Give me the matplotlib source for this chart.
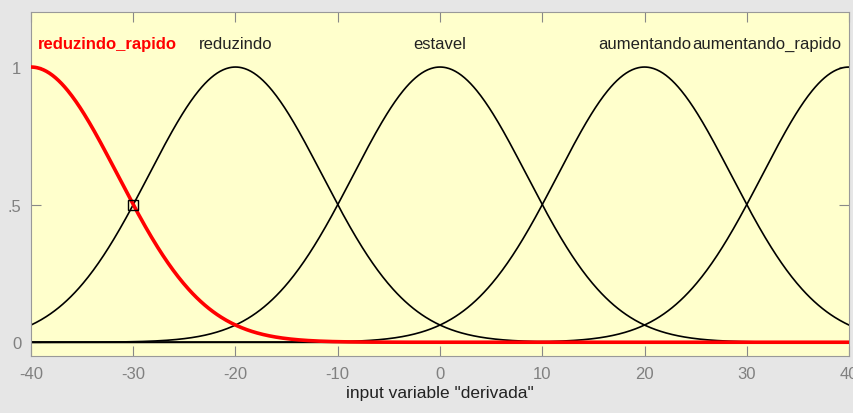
import numpy as np
import matplotlib
matplotlib.use("Agg")
import matplotlib.pyplot as plt

plt.rcParams['font.family'] = ['Liberation Sans', 'DejaVu Sans']
plt.rcParams['axes.unicode_minus'] = False

# gaussian membership functions of the input "derivada"
mf_names = ['reduzindo_rapido', 'reduzindo', 'estavel', 'aumentando', 'aumentando_rapido']
mf_centers = [-40, -20, 0, 20, 40]
mf_sigma = 8.493
selected = 0
x_ticks = [-40, -30, -20, -10, 0, 10, 20, 30, 40]
y_ticks = [0, 0.5, 1]
y_ticklabels = ['0', '.5', '1']
marker_pt = (-30, 0.5)

fig = plt.figure(figsize=(8.54, 4.14), dpi=100, facecolor='#e6e6e6')
ax = fig.add_axes([31/854, 1 - 357/414, 818/854, 344/414])
ax.set_facecolor('#ffffcc')

x = np.linspace(-40, 40, 801)
ax.axhline(0, color='black', lw=1.0, zorder=1)
for i, (name, c) in enumerate(zip(mf_names, mf_centers)):
    y = np.exp(-(x - c) ** 2 / (2 * mf_sigma ** 2))
    if i == selected:
        continue
    ax.plot(x, y, color='black', lw=1.2, zorder=2)
# selected function drawn on top, in red
c = mf_centers[selected]
ax.plot(x, np.exp(-(x - c) ** 2 / (2 * mf_sigma ** 2)), color='red', lw=2.6, zorder=3)
ax.plot(*marker_pt, marker='s', ms=7, mfc='none', mec='black', mew=1.0, zorder=4)

# labels above the peaks, kept inside the axes at both ends
for i, (name, c) in enumerate(zip(mf_names, mf_centers)):
    ha = 'center'
    tx = c
    if c == x_ticks[0]:
        ha, tx = 'left', c + 0.7
    elif c == x_ticks[-1]:
        ha, tx = 'right', c - 0.7
    if i == selected:
        ax.text(tx, 1.085, name, ha=ha, va='center', fontsize=12, color='red', fontweight='bold')
    else:
        ax.text(tx, 1.085, name, ha=ha, va='center', fontsize=12, color='#222222')

ax.set_xlim(-40, 40)
ax.set_ylim(-0.05, 1.2)
ax.set_xticks(x_ticks)
ax.set_yticks(y_ticks)
ax.set_yticklabels(y_ticklabels)
ax.tick_params(direction='in', top=True, right=True, length=7, color='#888888',
               labelcolor='#808080', labelsize=12, pad=7)
for s in ax.spines.values():
    s.set_color('#999999')
ax.set_xlabel('input variable "derivada"', fontsize=12.5, color='#222222', labelpad=3)

fig.savefig('out.png', dpi=100, facecolor=fig.get_facecolor())
